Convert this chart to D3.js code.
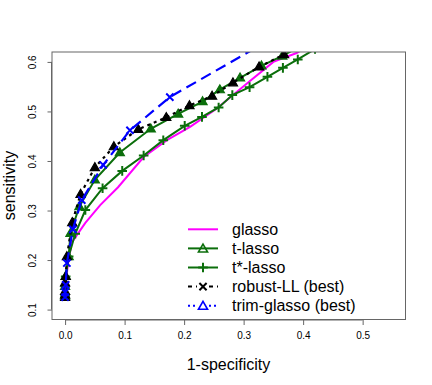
<!DOCTYPE html>
<html>
<head>
<meta charset="utf-8">
<script src="https://cdn.jsdelivr.net/npm/d3@7/dist/d3.min.js"></script>
<style>
  body { margin: 0; background: #fff; }
  text { font-family: "Liberation Sans", Arial, sans-serif; }
</style>
</head>
<body>
<script>
// tick labels
var xTicks = [0, 0.1, 0.2, 0.3, 0.4, 0.5];
var yTicks = [0.1, 0.2, 0.3, 0.4, 0.5, 0.6];

// glasso (magenta, no markers)
var glassoX = [0, 0.002, 0.0055, 0.011, 0.034, 0.059, 0.089, 0.132, 0.171, 0.210, 0.255, 0.305, 0.350, 0.389, 0.42];
var glassoY = [0.125, 0.165, 0.197, 0.235, 0.275, 0.311, 0.347, 0.408, 0.442, 0.469, 0.506, 0.556, 0.600, 0.618, 0.64];

// t-lasso (green, triangles)
var tlassoX = [0, 0, 0.001, 0.006, 0.009, 0.024, 0.050, 0.092, 0.144, 0.190, 0.231, 0.260, 0.294, 0.330, 0.365, 0.40];
var tlassoY = [0.128, 0.147, 0.167, 0.207, 0.254, 0.308, 0.362, 0.417, 0.465, 0.495, 0.520, 0.544, 0.568, 0.592, 0.612, 0.635];

// t*-lasso (green, plus)
var tstarX = [0, 0, 0.001, 0.006, 0.017, 0.034, 0.063, 0.096, 0.132, 0.165, 0.201, 0.230, 0.258, 0.281, 0.310, 0.340, 0.366, 0.391, 0.42];
var tstarY = [0.128, 0.147, 0.167, 0.207, 0.253, 0.301, 0.345, 0.380, 0.411, 0.442, 0.471, 0.489, 0.508, 0.533, 0.549, 0.570, 0.588, 0.605, 0.626];

// black dotted with triangles
var blackX = [0, 0, 0, 0, 0.001, 0.003, 0.012, 0.026, 0.050, 0.082, 0.123, 0.170, 0.209, 0.247, 0.282, 0.326, 0.368, 0.40];
var blackY = [0.125, 0.130, 0.137, 0.154, 0.167, 0.207, 0.276, 0.333, 0.387, 0.429, 0.464, 0.488, 0.512, 0.531, 0.558, 0.590, 0.615, 0.64];

// blue dashed with x
var blueX = [0, 0, 0.001, 0.003, 0.013, 0.028, 0.064, 0.109, 0.176, 0.33];
var blueY = [0.125, 0.135, 0.15, 0.194, 0.262, 0.321, 0.392, 0.462, 0.529, 0.635];

var legendNames = ["glasso", "t-lasso", "t*-lasso", "robust-LL (best)", "trim-glasso (best)"];

var W = 432, H = 385;
var green = "#0b6e0b";

var svg = d3.select("body").append("svg").attr("width", W).attr("height", H);

var x = d3.scaleLinear().domain([-0.022, 0.572]).range([52, 405.5]);
var y = d3.scaleLinear().domain([0.08, 0.62]).range([319.5, 52]);

svg.append("clipPath").attr("id", "clip").append("rect")
    .attr("x", 52).attr("y", 52).attr("width", 353.5).attr("height", 267.5);

function zip(a, b) { return a.map(function(v, i) { return [v, b[i]]; }); }

var line = d3.line().x(function(d) { return x(d[0]); }).y(function(d) { return y(d[1]); });

var plot = svg.append("g").attr("clip-path", "url(#clip)");

function triPath(cx, cy) {
    var r = 4.8;
    return "M" + cx + "," + (cy - r) + "L" + (cx + r * 0.95) + "," + (cy + r * 0.65) + "L" + (cx - r * 0.95) + "," + (cy + r * 0.65) + "Z";
}
function plusPath(cx, cy) {
    var r = 4.8;
    return "M" + (cx - r) + "," + cy + "H" + (cx + r) + "M" + cx + "," + (cy - r) + "V" + (cy + r);
}
function crossPath(cx, cy) {
    var r = 3.6;
    return "M" + (cx - r) + "," + (cy - r) + "L" + (cx + r) + "," + (cy + r) + "M" + (cx - r) + "," + (cy + r) + "L" + (cx + r) + "," + (cy - r);
}

// glasso
plot.append("path").datum(zip(glassoX, glassoY)).attr("d", line)
    .attr("fill", "none").attr("stroke", "#ff00ff").attr("stroke-width", 2);

// t-lasso
var tl = zip(tlassoX, tlassoY);
plot.append("path").datum(tl).attr("d", line)
    .attr("fill", "none").attr("stroke", green).attr("stroke-width", 2);
plot.selectAll(".tl").data(tl).enter().append("path")
    .attr("d", function(d) { return triPath(x(d[0]), y(d[1])); })
    .attr("fill", green).attr("stroke", green).attr("stroke-width", 1.2);

// t*-lasso
var ts = zip(tstarX, tstarY);
plot.append("path").datum(ts).attr("d", line)
    .attr("fill", "none").attr("stroke", green).attr("stroke-width", 2);
plot.selectAll(".ts").data(ts).enter().append("path")
    .attr("d", function(d) { return plusPath(x(d[0]), y(d[1])); })
    .attr("fill", "none").attr("stroke", green).attr("stroke-width", 2);

// black dotted
var bk = zip(blackX, blackY);
plot.append("path").datum(bk).attr("d", line)
    .attr("fill", "none").attr("stroke", "#000").attr("stroke-width", 2.2)
    .attr("stroke-dasharray", "3,4");
plot.selectAll(".bk").data(bk).enter().append("path")
    .attr("d", function(d) { return triPath(x(d[0]), y(d[1])); })
    .attr("fill", "#000").attr("stroke", "#000").attr("stroke-width", 1.2);

// blue dashed
var bl = zip(blueX, blueY);
plot.append("path").datum(bl).attr("d", line)
    .attr("fill", "none").attr("stroke", "#0000ff").attr("stroke-width", 2.2)
    .attr("stroke-dasharray", "11,6");
plot.selectAll(".bl").data(bl).enter().append("path")
    .attr("d", function(d) { return crossPath(x(d[0]), y(d[1])); })
    .attr("fill", "none").attr("stroke", "#0000ff").attr("stroke-width", 2);

// box
svg.append("rect").attr("x", 52).attr("y", 52).attr("width", 353.5).attr("height", 267.5)
    .attr("fill", "none").attr("stroke", "#666").attr("stroke-width", 1);

// x axis
var xAxis = d3.axisBottom(x).tickValues(xTicks).tickFormat(d3.format(".1f")).tickSize(5.5).tickPadding(7);
var xg = svg.append("g").attr("transform", "translate(0,319.5)").call(xAxis);
xg.select(".domain").attr("stroke", "#666").attr("d", "M" + x(0) + ",0.5H" + x(0.5));
xg.selectAll("line").attr("stroke", "#666");
xg.selectAll("text").attr("font-size", 10).attr("fill", "#000")
    .attr("font-family", "Liberation Sans, Arial, sans-serif");

// y axis, labels rotated like R's las=0
var yAxis = d3.axisLeft(y).tickValues(yTicks).tickFormat(d3.format(".1f")).tickSize(4.5).tickPadding(7);
var yg = svg.append("g").attr("transform", "translate(52,0)").call(yAxis);
yg.select(".domain").attr("stroke", "#666").attr("d", "M-0.5," + y(0.1) + "V" + y(0.6));
yg.selectAll("line").attr("stroke", "#666");
yg.selectAll(".tick text")
    .attr("font-size", 10).attr("fill", "#000")
    .attr("font-family", "Liberation Sans, Arial, sans-serif")
    .attr("text-anchor", "middle").attr("dy", null)
    .attr("x", 0).attr("y", 0)
    .attr("transform", "translate(-16,0) rotate(-90)");

// axis titles
svg.append("text").attr("x", 228.5).attr("y", 369.5).attr("text-anchor", "middle")
    .attr("font-size", 16).text("1-specificity");
svg.append("text").attr("transform", "translate(15,185.5) rotate(-90)").attr("text-anchor", "middle")
    .attr("font-size", 16).text("sensitivity");

// legend
var ly = d3.scaleLinear().domain([0, 4]).range([229.3, 305.7]);
var lg = svg.append("g");
var lx0 = 188, lx1 = 218, lm = 203;
var legStyles = [
    { col: "#ff00ff", dash: null, mark: null },
    { col: green, dash: null, mark: "tri" },
    { col: green, dash: null, mark: "plus" },
    { col: "#000", dash: "4,4", mark: "cross" },
    { col: "#0000ff", dash: "2,3", mark: "tri" }
];
legendNames.forEach(function(name, i) {
    var s = legStyles[i], yy = ly(i);
    if (s.dash) {
        lg.append("line").attr("x1", lx0).attr("x2", lm - 6).attr("y1", yy).attr("y2", yy)
            .attr("stroke", s.col).attr("stroke-width", 2).attr("stroke-dasharray", s.dash);
        lg.append("line").attr("x1", lm + 6).attr("x2", lx1).attr("y1", yy).attr("y2", yy)
            .attr("stroke", s.col).attr("stroke-width", 2).attr("stroke-dasharray", s.dash);
    } else {
        lg.append("line").attr("x1", lx0).attr("x2", lx1).attr("y1", yy).attr("y2", yy)
            .attr("stroke", s.col).attr("stroke-width", 2);
    }
    if (s.mark === "tri") {
        lg.append("path").attr("d", triPath(lm, yy + 0.5)).attr("fill", s.dash ? "#fff" : "none")
            .attr("stroke", s.col).attr("stroke-width", 1.6);
    } else if (s.mark === "plus") {
        lg.append("path").attr("d", plusPath(lm, yy)).attr("fill", "none")
            .attr("stroke", s.col).attr("stroke-width", 2);
    } else if (s.mark === "cross") {
        lg.append("path").attr("d", crossPath(lm, yy)).attr("fill", "none")
            .attr("stroke", s.col).attr("stroke-width", 2);
    }
    lg.append("text").attr("x", 232).attr("y", yy).attr("dy", "0.35em")
        .attr("font-size", 16).text(name);
});
</script>
</body>
</html>
